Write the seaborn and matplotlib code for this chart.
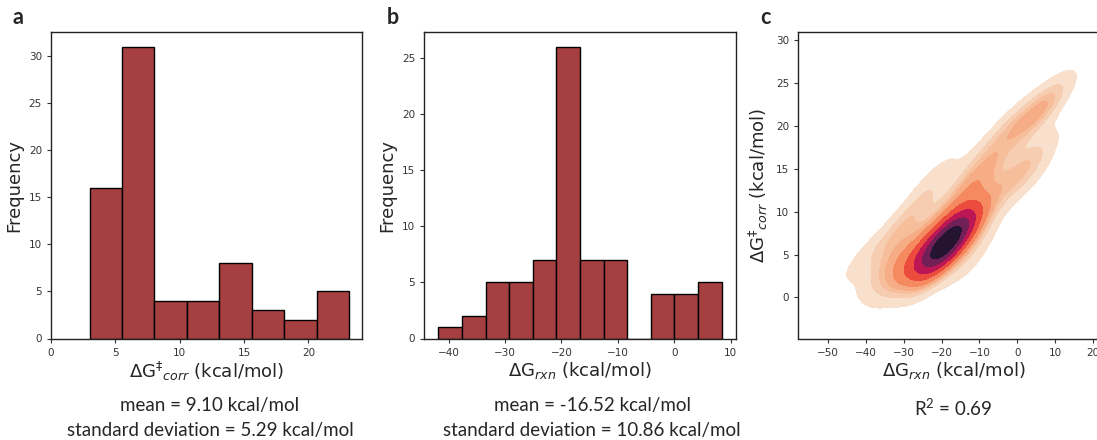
import numpy as np
import pandas as pd
import matplotlib
matplotlib.use("Agg")
import matplotlib.pyplot as plt
import seaborn as sns

# Reaction free energies (kcal/mol) for the 73 reactions
dg_rxn = [
    -41.8,
    -36.0, -34.5,
    -33.0, -32.0, -31.5, -30.5, -29.8,
    -29.2, -28.3, -27.5, -26.8, -26.0,
    -24.8, -24.3, -23.6, -23.0, -22.4, -21.8, -21.4,
    -20.8, -20.5, -20.3, -20.1, -19.9, -19.7, -19.5, -19.3, -19.1, -18.9,
    -18.7, -18.5, -18.3, -18.1, -17.9, -17.7, -17.5, -17.3, -17.1, -16.9,
    -20.6, -19.0, -18.0, -17.6, -16.8, -18.4,
    -16.6, -16.0, -15.3, -14.8, -14.2, -13.6, -13.0,
    -12.3, -11.7, -11.2, -10.5, -9.9, -9.4, -8.8,
    -4.0, -3.0, -3.5, -1.0,
    0.3, 1.0, 2.0, 3.0,
    4.9, 5.0, 6.0, 7.0, 8.36,
]

# Corrected activation free energies (kcal/mol), same order
dg_act = [
    4.2,
    3.5, 6.5,
    3.1, 5.6, 4.1, 7.7, 3.0,
    4.0, 9.6, 3.6, 6.5, 4.4,
    4.2, 11.5, 5.2, 7.0, 3.8, 8.9, 14.2,
    6.1, 3.6, 6.8, 5.6, 7.2, 4.5, 6.6, 5.9, 8.3, 6.4,
    4.9, 7.0, 6.2, 5.3, 7.4, 6.0, 6.9, 5.8, 7.6, 6.5,
    7.1, 5.7, 6.7, 7.3, 6.3, 7.2,
    7.2, 5.8, 6.8, 9.5, 12.0, 13.3, 3.8,
    7.8, 6.2, 12.3, 13.5, 14.6, 16.5, 10.8,
    16.0, 14.0, 19.1, 20.3,
    14.1, 14.8, 20.9, 13.7,
    16.8, 20.8, 21.5, 22.3, 23.15,
]

panel_labels = ["a", "b", "c"]
label_act = r"ΔG$^{\ddag}$$_{corr}$ (kcal/mol)"
label_rxn = r"ΔG$_{rxn}$ (kcal/mol)"
stats_a = ["mean = 9.10 kcal/mol", "standard deviation = 5.29 kcal/mol"]
stats_b = ["mean = -16.52 kcal/mol", "standard deviation = 10.86 kcal/mol"]
stats_c = r"R$^{\mathregular{2}}$ = 0.69"

df = pd.DataFrame({"rxn": dg_rxn, "act": dg_act})

sns.set_theme(style="ticks")
plt.rcParams["font.family"] = ["DejaVu Sans"]
plt.rcParams["xtick.labelsize"] = 7.5
plt.rcParams["ytick.labelsize"] = 7.5
plt.rcParams["xtick.color"] = "#333333"
plt.rcParams["ytick.color"] = "#333333"
plt.rcParams["xtick.major.size"] = 3
plt.rcParams["ytick.major.size"] = 3
plt.rcParams["xtick.major.width"] = 0.8
plt.rcParams["ytick.major.width"] = 0.8
plt.rcParams["axes.edgecolor"] = "#222222"
plt.rcParams["axes.linewidth"] = 1.0

W, H = 1097, 440
fig = plt.figure(figsize=(W / 100, H / 100), dpi=100)


def box(left, top, right, bottom):
    return [left / W, 1 - bottom / H, (right - left) / W, (bottom - top) / H]


ax_a = fig.add_axes(box(51, 32, 362, 338.5))
ax_b = fig.add_axes(box(424.3, 32, 735.7, 338.5))
ax_c = fig.add_axes(box(798.3, 32, 1109.6, 338.5))

bar_color = "#a64040"

sns.histplot(data=df, x="act", bins=8, ax=ax_a, color=bar_color, alpha=1,
             edgecolor="black", linewidth=1.0)
ax_a.set_xlim(left=0)
ax_a.set_xticks([0, 5, 10, 15, 20])
ax_a.set_ylabel("Frequency", fontsize=13)
ax_a.set_xlabel(label_act, fontsize=13, labelpad=2)

sns.histplot(data=df, x="rxn", bins=12, ax=ax_b, color=bar_color, alpha=1,
             edgecolor="black", linewidth=1.0)
ax_b.set_xticks([-40, -30, -20, -10, 0, 10])
ax_b.set_ylabel("Frequency", fontsize=13)
ax_b.set_xlabel(label_rxn, fontsize=13, labelpad=2)

sns.kdeplot(data=df, x="rxn", y="act", fill=True, cmap="rocket_r", ax=ax_c)
ax_c.set_xticks([-50, -40, -30, -20, -10, 0, 10, 20])
ax_c.set_yticks([0, 5, 10, 15, 20, 25, 30])
ax_c.set_xlabel(label_rxn, fontsize=13, labelpad=2)
ax_c.set_ylabel(label_act, fontsize=13)

for ax in (ax_a, ax_b, ax_c):
    for s in ax.spines.values():
        s.set_visible(True)

text_font = ["Lato", "DejaVu Sans"]
fig.text(210 / W, 1 - 405 / H, stats_a[0], ha="center", va="center",
         fontsize=13.5, family=text_font)
fig.text(210 / W, 1 - 430 / H, stats_a[1], ha="center", va="center",
         fontsize=13.5, family=text_font)
fig.text(592 / W, 1 - 405 / H, stats_b[0], ha="center", va="center",
         fontsize=13.5, family=text_font)
fig.text(592 / W, 1 - 430 / H, stats_b[1], ha="center", va="center",
         fontsize=13.5, family=text_font)
fig.text(953 / W, 1 - 408 / H, stats_c, ha="center", va="center",
         fontsize=13.5, family=text_font)

for x, lab in zip([18, 393, 765], panel_labels):
    fig.text(x / W, 1 - 17 / H, lab, ha="center", va="center",
             fontsize=15.5, fontweight="bold", family=text_font)

fig.savefig("out.png", dpi=100)
